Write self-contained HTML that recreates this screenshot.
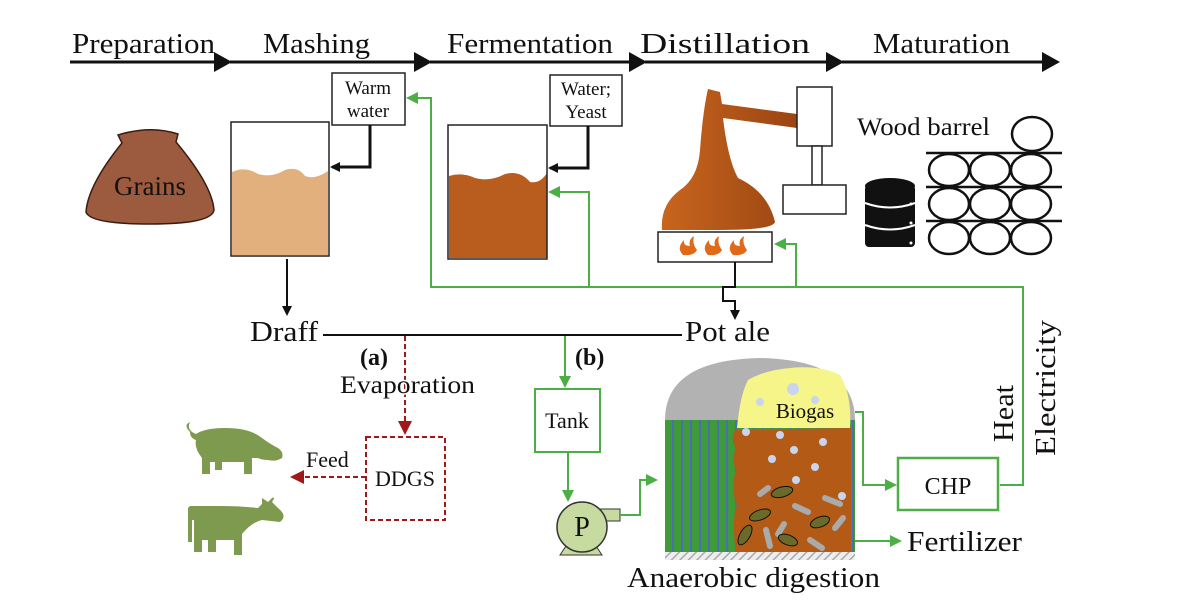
<!DOCTYPE html>
<html><head><meta charset="utf-8"><style>
html,body{margin:0;padding:0;background:#fff;width:1200px;height:611px;overflow:hidden}
svg{display:block}
text{font-family:"Liberation Serif",serif;fill:#111}
</style></head><body>
<svg width="1200" height="611" viewBox="0 0 1200 611" xmlns="http://www.w3.org/2000/svg">
<defs>
<marker id="ab" markerWidth="10" markerHeight="10" refX="8" refY="5" orient="auto" markerUnits="userSpaceOnUse"><path d="M0,0 L10,5 L0,10 Z" fill="#111"/></marker>
<marker id="ag" markerWidth="12" markerHeight="12" refX="10" refY="6" orient="auto" markerUnits="userSpaceOnUse"><path d="M0,0 L12,6 L0,12 Z" fill="#4caf45"/></marker>
<marker id="ar" markerWidth="14" markerHeight="14" refX="12" refY="7" orient="auto" markerUnits="userSpaceOnUse"><path d="M0,0 L14,7 L0,14 Z" fill="#a01818"/></marker>
<pattern id="hatch" width="6" height="6" patternUnits="userSpaceOnUse" patternTransform="rotate(45)"><rect width="6" height="6" fill="#eee"/><line x1="0" y1="0" x2="0" y2="6" stroke="#aaa" stroke-width="3"/></pattern>
<pattern id="stripe" width="9" height="10" patternUnits="userSpaceOnUse"><rect width="9" height="10" fill="#3f9a3a"/><rect x="6" width="2" height="10" fill="#4a6fb0"/></pattern>
<linearGradient id="cu" x1="0" y1="0" x2="1" y2="0"><stop offset="0" stop-color="#c8651e"/><stop offset="1" stop-color="#9a4512"/></linearGradient>
</defs>

<g stroke="#111" stroke-width="3" fill="none">
<line x1="70" y1="62" x2="222" y2="62"/><line x1="230" y1="62" x2="422" y2="62"/><line x1="430" y1="62" x2="637" y2="62"/><line x1="645" y1="62" x2="834" y2="62"/><line x1="842" y1="62" x2="1050" y2="62"/>
</g>
<g fill="#111">
<path d="M214,52 L232,62 L214,72 Z"/><path d="M414,52 L432,62 L414,72 Z"/><path d="M629,52 L647,62 L629,72 Z"/><path d="M826,52 L844,62 L826,72 Z"/><path d="M1042,52 L1060,62 L1042,72 Z"/>
</g>
<g font-size="29">
<text x="72" y="53" textLength="143" lengthAdjust="spacingAndGlyphs">Preparation</text>
<text x="263" y="53" textLength="107" lengthAdjust="spacingAndGlyphs">Mashing</text>
<text x="447" y="53" textLength="166" lengthAdjust="spacingAndGlyphs">Fermentation</text>
<text x="640" y="53" textLength="170" lengthAdjust="spacingAndGlyphs">Distillation</text>
<text x="873" y="53" textLength="137" lengthAdjust="spacingAndGlyphs">Maturation</text>
</g>

<path d="M118,135 Q150,125 178,134 L176,142 Q212,185 214,210 Q212,224 150,224 Q90,224 86,212 Q88,185 122,143 Z" fill="#9c5b3e" stroke="#3a1c10" stroke-width="1.5"/>
<text x="150" y="195" font-size="27" text-anchor="middle">Grains</text>

<path d="M232,172 Q245,166 258,174 Q272,178 285,170 Q298,166 305,176 Q315,180 328,171 L328,255 L232,255 Z" fill="#e2b07c"/>
<rect x="231" y="122" width="98" height="134" fill="none" stroke="#222" stroke-width="1.5"/>
<rect x="332" y="73" width="73" height="52" fill="#fff" stroke="#222" stroke-width="1.5"/>
<text x="368" y="94" font-size="19" text-anchor="middle">Warm</text><text x="368" y="117" font-size="19" text-anchor="middle">water</text>
<polyline points="370,125 370,167 332,167" fill="none" stroke="#111" stroke-width="3" marker-end="url(#ab)"/>
<line x1="287" y1="259" x2="287" y2="314" stroke="#111" stroke-width="2" marker-end="url(#ab)"/>

<path d="M449,176 Q462,172 475,178 Q490,182 505,174 Q520,170 530,182 Q540,184 547,173 L547,258 L449,258 Z" fill="#b95d1f"/>
<rect x="448" y="125" width="99" height="134" fill="none" stroke="#222" stroke-width="1.5"/>
<rect x="550" y="75" width="72" height="51" fill="#fff" stroke="#222" stroke-width="1.5"/>
<text x="586" y="95" font-size="19" text-anchor="middle">Water;</text><text x="586" y="118" font-size="19" text-anchor="middle">Yeast</text>
<polyline points="588,126 588,168 550,168" fill="none" stroke="#111" stroke-width="3" marker-end="url(#ab)"/>

<g fill="none" stroke="#4caf45" stroke-width="2">
<polyline points="1000,485 1023,485 1023,287 431,287 431,98 408,98" marker-end="url(#ag)"/>
<polyline points="589,287 589,192 550,192" marker-end="url(#ag)"/>
<polyline points="796,287 796,244 776,244" marker-end="url(#ag)"/>
</g>

<path d="M708,89 L720,92 L722,104 L797,114 L797,128 L723,118 Q728,160 738,178 Q768,192 775,222 Q773,230 720,230 L662,230 Q660,205 680,190 Q698,178 700,150 Q703,110 708,89 Z" fill="url(#cu)"/>
<rect x="658" y="232" width="114" height="30" fill="#fff" stroke="#222" stroke-width="1.5"/>
<g fill="#e06a1a">
<path d="M683,255 Q676,248 684,240 Q683,246 690,246 Q688,240 694,236 Q692,244 697,250 Q694,256 683,255 Z"/>
<path d="M708,255 Q701,248 709,240 Q708,246 715,246 Q713,240 719,236 Q717,244 722,250 Q719,256 708,255 Z"/>
<path d="M733,255 Q726,248 734,240 Q733,246 740,246 Q738,240 744,236 Q742,244 747,250 Q744,256 733,255 Z"/>
</g>
<rect x="797" y="87" width="35" height="59" fill="#fff" stroke="#222" stroke-width="1.5"/>
<rect x="812" y="146" width="10" height="39" fill="#fff" stroke="#222" stroke-width="1.5"/>
<rect x="783" y="185" width="63" height="29" fill="#fff" stroke="#222" stroke-width="1.5"/>
<polyline points="735,262 735,287 723,287 723,301 735,301 735,318" fill="none" stroke="#111" stroke-width="2" marker-end="url(#ab)"/>

<text x="857" y="135" font-size="25" textLength="133" lengthAdjust="spacingAndGlyphs">Wood barrel</text>
<g fill="#111">
<rect x="865" y="185" width="50" height="62" rx="4"/><ellipse cx="890" cy="186" rx="25" ry="8"/>
</g>
<g stroke="#fff" stroke-width="2" fill="none"><path d="M865,203 Q890,212 915,203"/><path d="M865,225 Q890,234 915,225"/></g>
<g fill="#fff"><circle cx="911" cy="204" r="1.5"/><circle cx="911" cy="223" r="1.5"/><circle cx="911" cy="243" r="1.5"/></g>
<g stroke="#111" stroke-width="2.5" fill="none">
<line x1="926" y1="153" x2="1062" y2="153"/><line x1="926" y1="187" x2="1062" y2="187"/><line x1="926" y1="221" x2="1062" y2="221"/>
<ellipse cx="1032" cy="134" rx="20" ry="17"/>
<ellipse cx="949" cy="170" rx="20" ry="16"/><ellipse cx="990" cy="170" rx="20" ry="16"/><ellipse cx="1031" cy="170" rx="20" ry="16"/>
<ellipse cx="949" cy="204" rx="20" ry="16"/><ellipse cx="990" cy="204" rx="20" ry="16"/><ellipse cx="1031" cy="204" rx="20" ry="16"/>
<ellipse cx="949" cy="238" rx="20" ry="16"/><ellipse cx="990" cy="238" rx="20" ry="16"/><ellipse cx="1031" cy="238" rx="20" ry="16"/>
</g>

<text x="250" y="341" font-size="29" textLength="68" lengthAdjust="spacingAndGlyphs">Draff</text>
<line x1="323" y1="335" x2="682" y2="335" stroke="#111" stroke-width="2"/>
<text x="685" y="341" font-size="29" textLength="85" lengthAdjust="spacingAndGlyphs">Pot ale</text>

<text x="360" y="365" font-size="24" font-weight="bold">(a)</text>
<line x1="405" y1="336" x2="405" y2="433" stroke="#a01818" stroke-width="2" stroke-dasharray="5,3" marker-end="url(#ar)"/>
<text x="340" y="393" font-size="25" textLength="135" lengthAdjust="spacingAndGlyphs" style="paint-order:stroke" stroke="#fff" stroke-width="3">Evaporation</text>
<rect x="366" y="437" width="79" height="83" fill="none" stroke="#a01818" stroke-width="2" stroke-dasharray="5,3"/>
<text x="405" y="486" font-size="22" text-anchor="middle">DDGS</text>
<line x1="366" y1="477" x2="292" y2="477" stroke="#a01818" stroke-width="2" stroke-dasharray="5,3" marker-end="url(#ar)"/>
<text x="306" y="467" font-size="22">Feed</text>

<g fill="#7e9a4f">
<path d="M190,432 Q183,425 190,422 Q186,430 196,434 Q205,428 225,428 Q250,428 262,438 Q270,444 278,448 Q284,452 282,458 Q276,462 268,460 Q262,460 258,458 L252,458 L252,474 L244,474 L244,462 L222,462 L222,470 L215,470 L215,462 L210,462 L210,474 L202,474 L202,458 Q194,448 196,440 Q190,438 190,432 Z"/>
<path d="M188,508 L188,542 L192,542 L192,520 L194,520 L194,552 L202,552 L202,540 L208,540 L208,552 L216,552 L216,540 L234,540 L234,555 L242,555 L242,534 Q252,522 262,520 L280,522 Q288,516 278,508 L272,502 Q276,496 272,498 L268,502 L262,498 L262,504 L258,508 Q240,506 220,506 L190,506 Z"/>
</g>

<text x="575" y="365" font-size="24" font-weight="bold">(b)</text>
<line x1="565" y1="336" x2="565" y2="386" stroke="#4caf45" stroke-width="2" marker-end="url(#ag)"/>
<rect x="535" y="389" width="65" height="63" fill="#fff" stroke="#4caf45" stroke-width="2"/>
<text x="567" y="428" font-size="22" text-anchor="middle">Tank</text>
<line x1="568" y1="452" x2="568" y2="500" stroke="#4caf45" stroke-width="2" marker-end="url(#ag)"/>
<path d="M560,555 L570,540 L592,540 L602,555 Z" fill="#c7dba0" stroke="#333"/>
<rect x="598" y="509" width="22" height="12" fill="#c7dba0" stroke="#333"/>
<circle cx="582" cy="527" r="25" fill="#c7dba0" stroke="#333" stroke-width="1.5"/>
<text x="582" y="536" font-size="28" text-anchor="middle">P</text>
<polyline points="620,515 640,515 640,480 656,480" fill="none" stroke="#4caf45" stroke-width="2" marker-end="url(#ag)"/>

<path d="M665,420 Q665,360 760,358 Q855,360 855,420 Z" fill="#b2b2b2"/>
<rect x="665" y="420" width="190" height="132" fill="url(#stripe)"/>
<path d="M735,430 Q730,440 736,448 Q731,460 736,470 Q730,490 737,505 Q731,520 736,552 L851,552 L851,428 Z" fill="#b35a17"/>
<path d="M737,428 Q740,395 748,380 Q765,370 790,368 Q820,365 840,375 Q852,395 850,428 Z" fill="#f5f58a"/>
<text x="805" y="418" font-size="21" text-anchor="middle">Biogas</text>
<rect x="665" y="552" width="190" height="8" fill="url(#hatch)"/>
<g fill="#c9d5ee">
<circle cx="793" cy="389" r="6"/><circle cx="815" cy="400" r="4"/><circle cx="760" cy="402" r="4"/><circle cx="746" cy="432" r="4"/><circle cx="780" cy="435" r="4"/><circle cx="823" cy="442" r="4"/><circle cx="794" cy="450" r="4"/><circle cx="772" cy="459" r="4"/><circle cx="815" cy="467" r="4"/><circle cx="796" cy="480" r="4"/><circle cx="842" cy="496" r="4"/>
</g>
<g stroke="#aaa" stroke-width="6" stroke-linecap="round">
<line x1="760" y1="494" x2="768" y2="488"/><line x1="825" y1="498" x2="840" y2="504"/><line x1="795" y1="506" x2="808" y2="512"/><line x1="784" y1="524" x2="778" y2="534"/><line x1="766" y1="530" x2="770" y2="546"/><line x1="810" y1="540" x2="822" y2="548"/><line x1="835" y1="528" x2="843" y2="518"/>
</g>
<g fill="#6b6a2a" stroke="#111" stroke-width="1">
<ellipse cx="782" cy="492" rx="11" ry="5" transform="rotate(-15 782 492)"/><ellipse cx="760" cy="515" rx="11" ry="5" transform="rotate(-20 760 515)"/><ellipse cx="745" cy="535" rx="11" ry="5" transform="rotate(-60 745 535)"/><ellipse cx="788" cy="540" rx="10" ry="5" transform="rotate(20 788 540)"/><ellipse cx="820" cy="522" rx="10" ry="5" transform="rotate(-20 820 522)"/>
</g>
<polyline points="855,412 863,412 863,485 895,485" fill="none" stroke="#4caf45" stroke-width="2" marker-end="url(#ag)"/>
<rect x="898" y="458" width="100" height="52" fill="#fff" stroke="#4caf45" stroke-width="2.5"/>
<text x="948" y="494" font-size="24" text-anchor="middle">CHP</text>
<line x1="855" y1="541" x2="900" y2="541" stroke="#4caf45" stroke-width="2" marker-end="url(#ag)"/>
<text x="907" y="551" font-size="29" textLength="115" lengthAdjust="spacingAndGlyphs">Fertilizer</text>
<text x="627" y="587" font-size="28" textLength="253" lengthAdjust="spacingAndGlyphs">Anaerobic  digestion</text>

<text transform="translate(1013,442) rotate(-90)" font-size="28" textLength="57" lengthAdjust="spacingAndGlyphs">Heat</text>
<text transform="translate(1055,456) rotate(-90)" font-size="28" textLength="136" lengthAdjust="spacingAndGlyphs">Electricity</text>
</svg>
</body></html>
